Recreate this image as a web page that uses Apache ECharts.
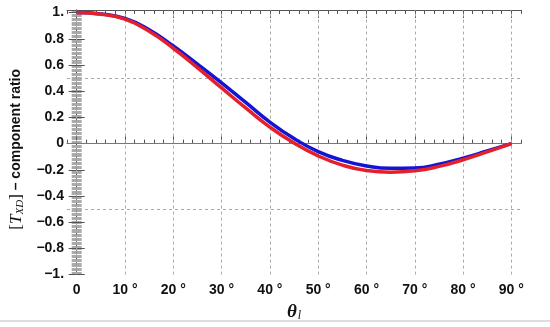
<!DOCTYPE html>
<html lang="en">
<head>
    <meta charset="UTF-8">
    <title>component ratio</title>
    <script src="https://cdn.jsdelivr.net/npm/echarts@6/dist/echarts.min.js"></script>
    <style>
        html, body { margin: 0; padding: 0; background: #fff; }
        #chart { width: 550px; height: 327px; }
    </style>
</head>
<body>
<div id="chart"></div>
<script>
    // angle theta_l in degrees
    var theta = [0, 5, 10, 15, 20, 25, 30, 35, 40, 45, 50, 55, 60, 65, 70, 75, 80, 85, 90];
    var blueRatio = [1.0, 0.99, 0.955, 0.87, 0.745, 0.607, 0.464, 0.314, 0.164, 0.039, -0.061, -0.128, -0.171, -0.189, -0.186, -0.158, -0.111, -0.056, 0.0];
    var redRatio = [1.0, 0.988, 0.95, 0.857, 0.728, 0.58, 0.425, 0.272, 0.126, 0.004, -0.094, -0.164, -0.206, -0.219, -0.208, -0.174, -0.123, -0.063, 0.0];

    var xMajor = [0, 10, 20, 30, 40, 50, 60, 70, 80, 90];
    var xTickLabels = ['0', '10 °', '20 °', '30 °', '40 °', '50 °', '60 °', '70 °', '80 °', '90 °'];
    var yMajor = [-1, -0.8, -0.6, -0.4, -0.2, 0, 0.2, 0.4, 0.6, 0.8, 1];
    var yTickLabels = ['\u22121.', '\u22120.8', '\u22120.6', '\u22120.4', '\u22120.2', '0', '0.2', '0.4', '0.6', '0.8', '1.'];
    var hGrid = [-0.5, 0.5];

    var frameColor = '#555';
    var labelFont = { color: '#111', fontFamily: 'Liberation Sans, Arial', fontWeight: 'bold', fontSize: 14 };

    function pairs(ys) {
        return theta.map(function (t, i) { return [t, ys[i]]; });
    }

    function yLabel(v) {
        for (var i = 0; i < yMajor.length; i++) {
            if (Math.abs(yMajor[i] - v) < 1e-6) return yTickLabels[i];
        }
        return '';
    }
    function xLabel(v) {
        var i = xMajor.indexOf(Math.round(v));
        return (i >= 0 && Math.abs(v - xMajor[i]) < 1e-6) ? xTickLabels[i] : '';
    }

    var gridLines = xMajor.map(function (v) {
        return { xAxis: v, lineStyle: { color: '#aaa', type: [3, 3], width: 1 } };
    });
    hGrid.forEach(function (v) {
        gridLines.push({ yAxis: v, lineStyle: { color: '#aaa', type: [3, 3], width: 1 } });
    });
    gridLines.push({ yAxis: 0, lineStyle: { color: '#777', type: 'solid', width: 1 } });

    var mychart = echarts.init(document.getElementById('chart'));
    var option = {
        animation: false,
        grid: { left: 64, right: 29, top: 10, bottom: 50 },
        xAxis: [
            {
                type: 'value', min: -2, max: 92, interval: 2, position: 'bottom',
                axisLine: { show: true, lineStyle: { color: frameColor } },
                axisTick: { show: true, inside: true, length: 4, lineStyle: { color: frameColor } },
                axisLabel: { show: false },
                splitLine: { show: false }
            },
            {
                type: 'value', min: -2, max: 92, position: 'bottom',
                axisLine: { show: false },
                axisTick: { show: true, inside: true, length: 8, customValues: xMajor, lineStyle: { color: frameColor } },
                axisLabel: Object.assign({ customValues: xMajor, formatter: xLabel, margin: 9 }, labelFont),
                splitLine: { show: false },
                name: '{t|\u03b8}{l|l}',
                nameLocation: 'middle',
                nameGap: 27,
                nameTextStyle: {
                    rich: {
                        t: { fontFamily: 'Liberation Serif, DejaVu Serif', fontStyle: 'italic', fontWeight: 'bold', fontSize: 19, color: '#111' },
                        l: { fontFamily: 'Liberation Serif, DejaVu Serif', fontStyle: 'italic', fontSize: 12, color: '#111', padding: [8, 0, 0, 1] }
                    }
                }
            },
            {
                type: 'value', min: -2, max: 92, interval: 2, position: 'top',
                axisLine: { show: true, lineStyle: { color: frameColor } },
                axisTick: { show: true, inside: true, length: 4, lineStyle: { color: frameColor } },
                axisLabel: { show: false },
                splitLine: { show: false }
            },
            {
                type: 'value', min: -2, max: 92, position: 'top',
                axisLine: { show: false },
                axisTick: { show: true, inside: true, length: 8, customValues: xMajor, lineStyle: { color: frameColor } },
                axisLabel: { show: false },
                splitLine: { show: false }
            }
        ],
        yAxis: [
            {
                type: 'value', min: -1, max: 1.02, interval: 0.2, position: 'left',
                axisLine: { show: true, lineStyle: { color: frameColor } },
                axisTick: { show: true, inside: true, length: 8, lineStyle: { color: frameColor } },
                minorTick: { show: true, splitNumber: 20, length: 5, lineStyle: { color: '#aaa' } },
                axisLabel: Object.assign({ formatter: yLabel, margin: 3 }, labelFont),
                splitLine: { show: false },
                minorSplitLine: { show: false },
                name: '{s|[}{i|T}{sub|XD}{s|]}{b| \u2013 component ratio}{g|\u00a0}',
                nameLocation: 'middle',
                nameGap: 32,
                nameTextStyle: {
                    rich: {
                        s: { fontFamily: 'Liberation Serif, DejaVu Serif', fontSize: 17, color: '#111' },
                        i: { fontFamily: 'Liberation Serif, DejaVu Serif', fontStyle: 'italic', fontSize: 17, color: '#111' },
                        sub: { fontFamily: 'Liberation Serif, DejaVu Serif', fontStyle: 'italic', fontSize: 11, color: '#111', padding: [7, 0, 0, 0] },
                        b: { fontFamily: 'Liberation Sans, Arial', fontWeight: 'bold', fontSize: 14, color: '#111' },
                        g: { width: 14, fontSize: 14 }
                    }
                }
            },
            {
                type: 'value', min: -1, max: 1.02, interval: 0.2, position: 'right',
                axisLine: { show: true, lineStyle: { color: frameColor } },
                axisTick: { show: true, inside: true, length: 8, lineStyle: { color: frameColor } },
                minorTick: { show: true, splitNumber: 20, length: 5, lineStyle: { color: '#aaa' } },
                axisLabel: { show: false },
                splitLine: { show: false },
                minorSplitLine: { show: false }
            }
        ],
        series: [
            {
                name: 'blue',
                type: 'line',
                xAxisIndex: 0,
                yAxisIndex: 0,
                data: pairs(blueRatio),
                smooth: 0.5,
                showSymbol: false,
                lineStyle: { color: '#1414d4', width: 3.5 },
                z: 3,
                markLine: {
                    silent: true,
                    symbol: 'none',
                    label: { show: false },
                    z: 1,
                    data: gridLines
                }
            },
            {
                name: 'red',
                type: 'line',
                xAxisIndex: 0,
                yAxisIndex: 0,
                data: pairs(redRatio),
                smooth: 0.5,
                showSymbol: false,
                lineStyle: { color: '#e3202b', width: 3.5 },
                z: 4
            }
        ],
        graphic: [
            {
                type: 'line',
                shape: { x1: 0, y1: 321, x2: 550, y2: 321 },
                style: { stroke: '#ddd', lineWidth: 2 }
            }
        ]
    };
    mychart.setOption(option);
</script>
</body>
</html>
